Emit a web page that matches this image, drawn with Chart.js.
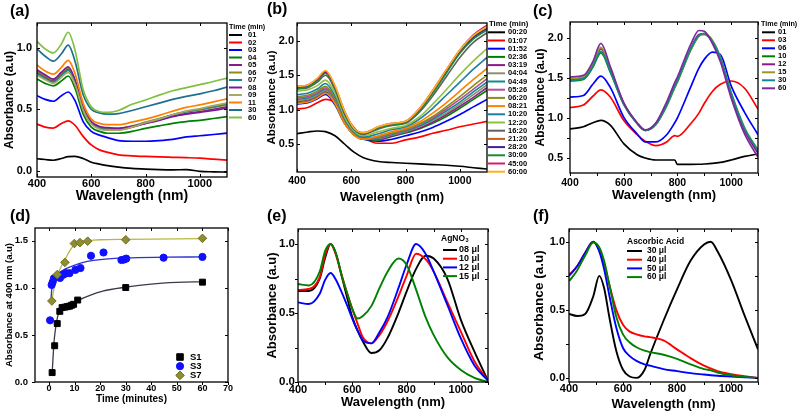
<!DOCTYPE html>
<html><head><meta charset="utf-8">
<script src="https://cdn.jsdelivr.net/npm/chart.js@4.4.1/dist/chart.umd.min.js"></script>
<style>
html,body{margin:0;padding:0;background:#fff;}
body{width:799px;height:419px;position:relative;overflow:hidden;}
canvas{position:absolute;}
</style></head><body>
<canvas id="pa" width="280" height="205" style="left:0px;top:0px;width:280px;height:205px"></canvas>
<canvas id="pb" width="270" height="205" style="left:265px;top:0px;width:270px;height:205px"></canvas>
<canvas id="pc" width="269" height="205" style="left:530px;top:0px;width:269px;height:205px"></canvas>
<canvas id="pd" width="265" height="214" style="left:0px;top:205px;width:265px;height:214px"></canvas>
<canvas id="pe" width="265" height="214" style="left:265px;top:205px;width:265px;height:214px"></canvas>
<canvas id="pf" width="269" height="214" style="left:530px;top:205px;width:269px;height:214px"></canvas>
<script>
// ---------------- DATA ----------------
// (a)
const A_WL = [400,430,460,490,515,540,570,600,630,660,700,750,800,850,900,950,1000,1050,1100];
const A_LABELS = ['01','02','03','04','05','06','07','08','09','11','30','60'];
const A_01 = [0.098,0.092,0.086,0.100,0.115,0.117,0.100,0.070,0.055,0.042,0.030,0.020,0.014,0.010,0.008,0.010,-0.004,-0.008,-0.010];
const A_02 = [0.380,0.355,0.347,0.385,0.406,0.370,0.280,0.210,0.170,0.150,0.130,0.122,0.117,0.113,0.110,0.107,0.103,0.095,0.087];
const A_03 = [0.610,0.580,0.565,0.610,0.640,0.570,0.400,0.320,0.290,0.270,0.245,0.240,0.240,0.245,0.255,0.275,0.285,0.295,0.306];
const A_04 = [0.745,0.710,0.690,0.730,0.770,0.670,0.460,0.355,0.320,0.305,0.305,0.320,0.345,0.365,0.385,0.400,0.410,0.425,0.440];
const A_05 = [0.800,0.760,0.730,0.780,0.825,0.720,0.500,0.390,0.350,0.340,0.335,0.355,0.385,0.415,0.445,0.465,0.480,0.500,0.520];
const A_06 = [0.810,0.770,0.740,0.790,0.835,0.730,0.510,0.395,0.355,0.345,0.345,0.365,0.395,0.425,0.455,0.480,0.495,0.515,0.535];
const A_07 = [0.790,0.750,0.720,0.770,0.815,0.715,0.500,0.385,0.345,0.335,0.335,0.360,0.390,0.420,0.455,0.480,0.500,0.520,0.545];
const A_08 = [0.820,0.780,0.745,0.800,0.845,0.740,0.515,0.400,0.360,0.350,0.345,0.360,0.385,0.410,0.440,0.460,0.475,0.490,0.510];
const A_09 = [0.775,0.740,0.710,0.760,0.800,0.705,0.495,0.380,0.340,0.330,0.330,0.355,0.390,0.420,0.455,0.485,0.505,0.530,0.550];
const A_11 = [0.860,0.810,0.785,0.840,0.897,0.790,0.550,0.420,0.385,0.375,0.375,0.395,0.420,0.450,0.485,0.515,0.535,0.560,0.585];
const A_30 = [0.990,0.930,0.890,0.950,1.020,0.890,0.620,0.500,0.470,0.460,0.465,0.490,0.520,0.550,0.580,0.605,0.625,0.650,0.680];
const A_60 = [1.050,0.990,0.957,1.030,1.125,0.980,0.660,0.520,0.480,0.474,0.490,0.540,0.575,0.615,0.650,0.675,0.700,0.725,0.753];
const A_X_TICKS = [400,600,800,1000];
const A_X_TICKLABELS = ['400','600','800','1000'];
const A_Y_TICKS = [0,0.5,1.0];
const A_Y_TICKLABELS = ['0.0','0.5','1.0'];

// (b)
const B_WL = [400,440,475,505,540,575,610,645,700,750,800,850,900,950,1000,1050,1100];
const B_LABELS = ['00:20','01:07','01:52','02:36','03:19','04:04','04:49','05:26','06:20','08:21','10:20','12:20','16:20','21:20','28:20','30:00','45:00','60:00'];
const B_0020 = [0.65,0.675,0.69,0.68,0.62,0.50,0.38,0.30,0.245,0.23,0.22,0.21,0.20,0.19,0.175,0.155,0.135];
const B_0107 = [1.01,1.03,1.10,1.15,1.10,0.92,0.74,0.60,0.51,0.51,0.56,0.60,0.655,0.70,0.75,0.79,0.83];
const B_0152 = [1.08,1.10,1.16,1.22,1.07,0.80,0.64,0.57,0.54,0.57,0.62,0.67,0.74,0.83,0.93,1.04,1.15];
const B_0236 = [1.10,1.12,1.18,1.25,1.09,0.81,0.63,0.57,0.56,0.61,0.66,0.72,0.80,0.90,1.02,1.15,1.28];
const B_0319 = [1.12,1.14,1.20,1.27,1.11,0.82,0.64,0.57,0.57,0.62,0.67,0.73,0.82,0.93,1.05,1.18,1.32];
const B_0404 = [1.13,1.15,1.21,1.28,1.12,0.82,0.64,0.575,0.58,0.63,0.68,0.75,0.84,0.95,1.08,1.22,1.36];
const B_0449 = [1.15,1.17,1.23,1.30,1.14,0.83,0.645,0.58,0.59,0.64,0.69,0.76,0.86,0.98,1.11,1.26,1.40];
const B_0526 = [1.17,1.19,1.25,1.32,1.15,0.84,0.65,0.58,0.60,0.65,0.70,0.78,0.88,1.01,1.15,1.30,1.45];
const B_0620 = [1.19,1.21,1.27,1.34,1.17,0.85,0.655,0.585,0.61,0.66,0.71,0.79,0.90,1.04,1.19,1.35,1.50];
const B_0821 = [1.09,1.11,1.17,1.24,1.09,0.80,0.63,0.57,0.62,0.68,0.73,0.82,0.95,1.10,1.27,1.44,1.60];
const B_1020 = [1.22,1.24,1.30,1.38,1.20,0.87,0.67,0.60,0.65,0.71,0.75,0.86,1.02,1.21,1.40,1.59,1.76];
const B_1220 = [1.27,1.29,1.35,1.43,1.24,0.90,0.69,0.62,0.68,0.73,0.77,0.89,1.08,1.29,1.51,1.71,1.89];
const B_1620 = [1.30,1.32,1.40,1.50,1.29,0.94,0.71,0.64,0.72,0.77,0.80,0.96,1.20,1.48,1.76,1.98,2.12];
const B_2120 = [1.33,1.35,1.44,1.55,1.33,0.97,0.725,0.66,0.74,0.79,0.82,1.00,1.27,1.57,1.85,2.06,2.20];
const B_2820 = [1.32,1.34,1.43,1.54,1.32,0.96,0.72,0.655,0.74,0.79,0.82,1.00,1.26,1.56,1.84,2.05,2.18];
const B_3000 = [1.31,1.33,1.42,1.53,1.31,0.96,0.715,0.65,0.73,0.78,0.81,0.98,1.24,1.53,1.82,2.03,2.16];
const B_4500 = [1.34,1.36,1.45,1.56,1.34,0.98,0.73,0.665,0.75,0.80,0.83,1.01,1.28,1.58,1.87,2.09,2.23];
const B_6000 = [1.34,1.36,1.46,1.57,1.35,0.98,0.73,0.665,0.75,0.80,0.83,1.01,1.28,1.58,1.87,2.08,2.21];
const B_X_TICKS = [400,600,800,1000];
const B_X_TICKLABELS = ['400','600','800','1000'];
const B_Y_TICKS = [0.5,1.0,1.5,2.0];
const B_Y_TICKLABELS = ['0.5','1.0','1.5','2.0'];

// (c)
const C_WL = [400,450,485,515,550,600,650,680,720,760,790,800,850,880,900,930,960,1000,1050,1100];
const C_LABELS = ['01','03','06','10','12','15','30','60'];
const C_01 = [0.86,0.89,0.94,0.97,0.91,0.68,0.54,0.50,0.475,0.475,0.475,0.42,0.42,0.422,0.425,0.432,0.445,0.475,0.52,0.55];
const C_03 = [1.13,1.16,1.27,1.35,1.26,0.97,0.79,0.71,0.655,0.70,0.78,0.77,0.93,1.06,1.18,1.33,1.42,1.46,1.37,1.11];
const C_06 = [1.26,1.28,1.42,1.52,1.38,1.01,0.80,0.70,0.70,0.79,0.94,1.00,1.39,1.62,1.73,1.82,1.79,1.40,1.07,0.79];
const C_10 = [1.46,1.48,1.63,1.81,1.57,1.17,0.93,0.845,0.92,1.15,1.38,1.45,1.85,2.02,2.04,1.95,1.74,1.30,0.86,0.58];
const C_12 = [1.48,1.50,1.66,1.86,1.60,1.18,0.93,0.845,0.93,1.17,1.40,1.47,1.87,2.04,2.05,1.95,1.73,1.28,0.84,0.56];
const C_15 = [1.49,1.51,1.67,1.88,1.61,1.18,0.935,0.85,0.92,1.15,1.38,1.45,1.85,2.02,2.05,1.97,1.76,1.32,0.88,0.60];
const C_30 = [1.47,1.49,1.64,1.83,1.58,1.17,0.93,0.845,0.92,1.16,1.39,1.46,1.86,2.03,2.05,1.96,1.75,1.31,0.87,0.59];
const C_60 = [1.51,1.53,1.70,1.93,1.64,1.19,0.94,0.85,0.94,1.20,1.44,1.51,1.92,2.09,2.08,1.93,1.70,1.25,0.80,0.51];
const C_X_TICKS = [400,500,600,700,800,900,1000,1100];
const C_X_TICKLABELS = ['400','','600','','800','','1000',''];
const C_Y_TICKS = [0.5,0.75,1.0,1.25,1.5,1.75,2.0];
const C_Y_TICKLABELS = ['0.5','','1.0','','1.5','','2.0'];

// (d)
const D_LABELS = ['S1','S3','S7'];
const D_S1_T = [1.2,2.2,3.2,4.2,5.1,6.2,7.1,8.0,8.8,9.6,11.2,30,60];
const D_S1_A = [0.10,0.385,0.62,0.75,0.79,0.795,0.80,0.805,0.815,0.825,0.87,1.003,1.06];
const D_S3_T = [0.4,1.0,1.4,1.9,4.3,5.3,5.9,6.6,8.0,10.3,12.3,16.4,21.3,28.3,29.3,30.2,44.8,60];
const D_S3_A = [0.655,1.03,1.06,1.10,1.105,1.135,1.145,1.155,1.155,1.19,1.21,1.34,1.375,1.295,1.30,1.31,1.32,1.328];
const D_S7_T = [1.1,3.2,6.2,9.9,12.1,15.1,30,60];
const D_S7_A = [0.86,1.14,1.27,1.47,1.48,1.495,1.51,1.525];
const D_FIT1_T = [1.2,1.6,2,2.5,3,3.6,4.5,5.5,7,9.5,12,16,21,30,40,50,60];
const D_FIT1_A = [0.08,0.28,0.44,0.56,0.645,0.72,0.77,0.79,0.81,0.84,0.875,0.92,0.965,1.007,1.04,1.057,1.064];
const D_FIT3_T = [0.7,1.0,1.4,2,3,4,6,8,10,12,15,20,30,45,60];
const D_FIT3_A = [0.85,0.97,1.04,1.09,1.13,1.16,1.195,1.22,1.24,1.26,1.28,1.30,1.318,1.325,1.328];
const D_FIT7_T = [1.0,1.5,2,3,4,5,6,7,8,9,10,12,15,20,30,60];
const D_FIT7_A = [0.84,0.93,1.0,1.1,1.18,1.24,1.29,1.34,1.39,1.43,1.46,1.49,1.50,1.51,1.515,1.523];
const D_X_TICKS = [0,10,20,30,40,50,60,70];
const D_X_TICKLABELS = ['0','10','20','30','40','50','60','70'];
const D_Y_TICKS = [0,0.5,1.0,1.5];
const D_Y_TICKLABELS = ['0.0','0.5','1.0','1.5'];

// (e)
const E_WL = [400,440,480,500,520,540,560,580,600,620,640,670,700,730,770,800,835,870,900,950,1000,1050,1100];
const E_LABELS = ['08 \u03bcl','10 \u03bcl','12 \u03bcl','15 \u03bcl'];
const E_08 = [0.66,0.66,0.75,0.90,1.0,0.93,0.775,0.62,0.47,0.37,0.29,0.21,0.23,0.32,0.50,0.655,0.82,0.915,0.895,0.75,0.45,0.22,0.01];
const E_10 = [0.667,0.674,0.76,0.92,1.0,0.92,0.78,0.65,0.53,0.42,0.32,0.28,0.34,0.44,0.62,0.77,0.93,0.89,0.80,0.58,0.365,0.15,0.01];
const E_12 = [0.577,0.565,0.64,0.74,0.79,0.74,0.655,0.56,0.46,0.37,0.30,0.28,0.36,0.47,0.68,0.85,1.0,0.93,0.80,0.56,0.316,0.12,0.01];
const E_15 = [0.71,0.70,0.80,0.95,1.0,0.93,0.78,0.65,0.53,0.46,0.48,0.55,0.68,0.80,0.895,0.85,0.67,0.47,0.34,0.18,0.087,0.03,0.0];
const E_X_TICKS = [400,500,600,700,800,900,1000,1100];
const E_X_TICKLABELS = ['400','','600','','800','','1000',''];
const E_Y_TICKS = [0,0.25,0.5,0.75,1.0];
const E_Y_TICKLABELS = ['0.0','','0.5','','1.0'];

// (f)
const F_WL = [400,430,460,490,512,530,550,575,600,625,650,680,700,750,800,850,900,925,950,1000,1050,1100];
const F_LABELS = ['30 \u03bcl','40 \u03bcl','50 \u03bcl','60 \u03bcl'];
const F_30 = [0.47,0.455,0.47,0.60,0.75,0.66,0.44,0.20,0.06,0.01,0.0,0.06,0.17,0.42,0.65,0.86,0.98,1.0,0.93,0.72,0.46,0.21];
const F_40 = [0.755,0.82,0.92,1.0,0.94,0.84,0.68,0.50,0.39,0.34,0.32,0.305,0.30,0.275,0.21,0.145,0.09,0.07,0.05,0.028,0.012,0.0];
const F_50 = [0.75,0.82,0.92,1.0,0.93,0.80,0.60,0.37,0.22,0.16,0.125,0.10,0.09,0.065,0.05,0.035,0.025,0.02,0.016,0.01,0.005,0.0];
const F_60 = [0.71,0.79,0.90,0.995,0.96,0.86,0.68,0.45,0.32,0.26,0.225,0.20,0.19,0.17,0.14,0.10,0.065,0.055,0.04,0.02,0.008,0.0];
const F_X_TICKS = [400,500,600,700,800,900,1000,1100];
const F_X_TICKLABELS = ['400','','600','','800','','1000',''];
const F_Y_TICKS = [0,0.25,0.5,0.75,1.0];
const F_Y_TICKLABELS = ['0.0','','0.5','','1.0'];

// ---------------- RENDERING ----------------
const FONT = "'Liberation Sans', Arial, Helvetica, sans-serif";

function lineSets(wl, series, labels, colors, width) {
  return series.map((vals, i) => ({
    label: labels[i],
    data: wl.map((w, j) => ({x: w, y: vals[j]})),
    borderColor: colors[i], backgroundColor: colors[i],
    borderWidth: width, pointRadius: 0, fill: false,
    cubicInterpolationMode: 'monotone', order: -i
  }));
}

function drawMarker(ctx, style, color, border, x, y, r) {
  ctx.save();
  ctx.fillStyle = color; ctx.strokeStyle = border; ctx.lineWidth = 1;
  ctx.beginPath();
  if (style === 'rect') { const s = r * 0.78; ctx.rect(x - s, y - s, 2 * s, 2 * s); }
  else if (style === 'circle') { ctx.arc(x, y, r, 0, Math.PI * 2); }
  else { ctx.moveTo(x, y - r); ctx.lineTo(x + r, y); ctx.lineTo(x, y + r); ctx.lineTo(x - r, y); ctx.closePath(); }
  ctx.fill(); ctx.stroke();
  ctx.restore();
}

const decor = {
  id: 'decor',
  afterDraw(chart, args, o) {
    const ctx = chart.ctx, a = chart.chartArea;
    const xs = chart.scales.x, ys = chart.scales.y;
    ctx.save();
    ctx.strokeStyle = '#000'; ctx.lineWidth = 1;
    const tl = o.tl || 3;
    const lb = o.out ? -1 : 1;
    xs.ticks.forEach(t => {
      const px = Math.round(xs.getPixelForValue(t.value)) + 0.5;
      ctx.beginPath();
      ctx.moveTo(px, a.bottom); ctx.lineTo(px, a.bottom - tl * lb);
      ctx.moveTo(px, a.top); ctx.lineTo(px, a.top + tl);
      ctx.stroke();
    });
    ys.ticks.forEach(t => {
      const py = Math.round(ys.getPixelForValue(t.value)) + 0.5;
      ctx.beginPath();
      ctx.moveTo(a.left, py); ctx.lineTo(a.left + tl * lb, py);
      ctx.moveTo(a.right, py); ctx.lineTo(a.right - tl, py);
      ctx.stroke();
    });
    ctx.lineWidth = 1.3;
    ctx.strokeRect(a.left, a.top, a.right - a.left, a.bottom - a.top);
    // panel tag
    ctx.fillStyle = '#000'; ctx.textAlign = 'left'; ctx.textBaseline = 'middle';
    ctx.font = 'bold 16px ' + FONT;
    ctx.fillText(o.tag, o.tagX, o.tagY);
    // legend
    const L = o.legend;
    if (L) {
      if (L.title) {
        ctx.font = 'bold ' + L.titleSize + 'px ' + FONT;
        ctx.fillText(L.title, L.titleX, L.titleY);
        if (L.titleSub) {
          const w = ctx.measureText(L.title).width;
          ctx.font = 'bold ' + (L.titleSize * 0.65) + 'px ' + FONT;
          ctx.fillText(L.titleSub, L.titleX + w + 0.5, L.titleY + L.titleSize * 0.3);
        }
      }
      const items = chart.data.datasets.filter(d => !d.noLegend);
      ctx.font = 'bold ' + L.size + 'px ' + FONT;
      items.forEach((d, i) => {
        const y = L.y0 + i * L.dy;
        if (d.pointStyle && d.markerLegend) {
          drawMarker(ctx, d.pointStyle, d.backgroundColor, d.pointBorderColor || d.backgroundColor, L.markX, y, d.pointRadius);
        } else {
          ctx.strokeStyle = d.borderColor; ctx.lineWidth = L.lw;
          ctx.beginPath(); ctx.moveTo(L.lineX0, y); ctx.lineTo(L.lineX1, y); ctx.stroke();
        }
        ctx.fillStyle = '#000';
        ctx.fillText(d.label, L.textX, y);
      });
    }
    ctx.restore();
  }
};

function makeChart(id, type, datasets, p) {
  const font = (s) => ({family: FONT, size: s, weight: 'bold'});
  return new Chart(document.getElementById(id), {
    type: type,
    data: {datasets: datasets},
    options: {
      responsive: false, animation: false, devicePixelRatio: 1,
      layout: {padding: {left: p.padL, top: p.padT, right: p.padR, bottom: p.padB}},
      plugins: {legend: {display: false}, tooltip: {enabled: false}, decor: p.decor},
      scales: {
        x: {
          type: 'linear', position: 'bottom', min: p.xMin, max: p.xMax,
          afterFit: s => { s.height = p.xH; },
          afterBuildTicks: s => { s.ticks = p.xTicks.map(v => ({value: v})); },
          ticks: {autoSkip: false, maxRotation: 0, padding: p.xPad, color: '#000', font: font(p.xTickSize),
                  callback: (v, i) => p.xLabels[i]},
          grid: {display: true, drawOnChartArea: false, drawTicks: false},
          border: {display: false},
          title: {display: true, text: p.xTitle, color: '#000', font: font(p.xTitleSize), padding: 0}
        },
        y: {
          type: 'linear', position: 'left', min: p.yMin, max: p.yMax,
          afterFit: s => { s.width = p.yW; },
          afterBuildTicks: s => { s.ticks = p.yTicks.map(v => ({value: v})); },
          ticks: {autoSkip: false, padding: p.yPad, color: '#000', font: font(p.yTickSize),
                  callback: (v, i) => p.yLabels[i]},
          grid: {display: true, drawOnChartArea: false, drawTicks: false},
          border: {display: false},
          title: {display: true, text: p.yTitle, color: '#000', font: font(p.yTitleSize), padding: 0}
        }
      }
    },
    plugins: [decor]
  });
}

// (a)
makeChart('pa', 'line',
  lineSets(A_WL, [A_01,A_02,A_03,A_04,A_05,A_06,A_07,A_08,A_09,A_11,A_30,A_60], A_LABELS,
    ['#000000','#ff0000','#0000ff','#008000','#8b1a8b','#8b8b1a','#108a8a','#7a1a9a','#a8a860','#ff8000','#1f6f8f','#80c040'], 1.7),
  {padL: 2.5, padT: 23, padR: 53, padB: 0, yW: 34.5, xH: 28,
   xMin: 400, xMax: 1100, yMin: -0.05, yMax: 1.2,
   xTicks: A_X_TICKS, xLabels: A_X_TICKLABELS, yTicks: A_Y_TICKS, yLabels: A_Y_TICKLABELS,
   xPad: 0, yPad: 5, xTickSize: 11, yTickSize: 11, xTitle: 'Wavelength (nm)', xTitleSize: 14,
   yTitle: 'Absorbance (a.u)', yTitleSize: 12,
   decor: {tag: '(a)', tagX: 10, tagY: 12, tl: 3,
     legend: {title: 'Time (min)', titleSize: 7.2, titleX: 229, titleY: 26.7, size: 7.5,
       lineX0: 229, lineX1: 242, textX: 248, y0: 35, dy: 7.5, lw: 2}}});

// (b)
makeChart('pb', 'line',
  lineSets(B_WL, [B_0020,B_0107,B_0152,B_0236,B_0319,B_0404,B_0449,B_0526,B_0620,B_0821,B_1020,B_1220,B_1620,B_2120,B_2820,B_3000,B_4500,B_6000], B_LABELS,
    ['#000000','#ff0000','#0000ff','#008000','#8b1a8b','#8f8f6f','#108a8a','#b0509a','#8b8b1a','#ff8000','#1f7f9f','#90c040','#606060','#c06020','#40208f','#1a8a3a','#d0206a','#ffb020'], 1.6),
  {padL: 0, padT: 23, padR: 48, padB: 0, yW: 32, xH: 33,
   xMin: 400, xMax: 1100, yMin: 0.092, yMax: 2.262,
   xTicks: B_X_TICKS, xLabels: B_X_TICKLABELS, yTicks: B_Y_TICKS, yLabels: B_Y_TICKLABELS,
   xPad: 3, yPad: 3, xTickSize: 10.5, yTickSize: 11, xTitle: 'Wavelength (nm)', xTitleSize: 13,
   yTitle: 'Absorbance (a.u)', yTitleSize: 11.5,
   decor: {tag: '(b)', tagX: 2, tagY: 10, tl: 3,
     legend: {title: 'Time (min)', titleSize: 7.8, titleX: 224, titleY: 24.3, size: 7.5,
       lineX0: 223, lineX1: 240, textX: 243, y0: 32.3, dy: 8.2, lw: 2}}});

// (c)
makeChart('pc', 'line',
  lineSets(C_WL, [C_01,C_03,C_06,C_10,C_12,C_15,C_30,C_60], C_LABELS,
    ['#000000','#ff0000','#0000ff','#008000','#8b1a8b','#9a9a20','#108a8a','#7a2a9a'], 1.7),
  {padL: 3.5, padT: 22, padR: 41, padB: 2.2, yW: 36.5, xH: 29.8,
   xMin: 400, xMax: 1100, yMin: 0.313, yMax: 2.196,
   xTicks: C_X_TICKS, xLabels: C_X_TICKLABELS, yTicks: C_Y_TICKS, yLabels: C_Y_TICKLABELS,
   xPad: 3.4, yPad: 7, xTickSize: 10.5, yTickSize: 11, xTitle: 'Wavelength (nm)', xTitleSize: 13,
   yTitle: 'Absorbance (a.u)', yTitleSize: 12,
   decor: {tag: '(c)', tagX: 3, tagY: 11.5, tl: 3, out: true,
     legend: {title: 'Time (min)', titleSize: 7.2, titleX: 231, titleY: 24, size: 7.5,
       lineX0: 232, lineX1: 245, textX: 248, y0: 32.3, dy: 8.0, lw: 2}}});

// (d)
const dPts = (t, a) => t.map((x, i) => ({x: x, y: a[i]}));
makeChart('pd', 'scatter', [
  {label: D_LABELS[0], data: dPts(D_S1_T, D_S1_A), pointStyle: 'rect', pointRadius: 4.2, backgroundColor: '#000000', pointBorderColor: '#000000', borderColor: '#000000', markerLegend: true, order: -10},
  {label: D_LABELS[1], data: dPts(D_S3_T, D_S3_A), pointStyle: 'circle', pointRadius: 3.6, backgroundColor: '#1010ff', pointBorderColor: '#1010ff', borderColor: '#1010ff', markerLegend: true, order: -11},
  {label: D_LABELS[2], data: dPts(D_S7_T, D_S7_A), pointStyle: 'rectRot', pointRadius: 4.3, backgroundColor: '#8e8e30', pointBorderColor: '#6e6e20', borderColor: '#6e6e20', markerLegend: true, order: -12},
  {label: 'fit S1', noLegend: true, data: dPts(D_FIT1_T, D_FIT1_A), showLine: true, pointRadius: 0, borderColor: '#3a3a4a', borderWidth: 1.3, cubicInterpolationMode: 'monotone', order: 1},
  {label: 'fit S3', noLegend: true, data: dPts(D_FIT3_T, D_FIT3_A), showLine: true, pointRadius: 0, borderColor: '#3030d0', borderWidth: 1.3, cubicInterpolationMode: 'monotone', order: 2},
  {label: 'fit S7', noLegend: true, data: dPts(D_FIT7_T, D_FIT7_A), showLine: true, pointRadius: 0, borderColor: '#b8b840', borderWidth: 1.3, cubicInterpolationMode: 'monotone', order: 3}
], {padL: 4, padT: 23, padR: 37, padB: 13.7, yW: 31, xH: 23.3,
   xMin: -5.5, xMax: 70, yMin: 0, yMax: 1.635,
   xTicks: D_X_TICKS, xLabels: D_X_TICKLABELS, yTicks: D_Y_TICKS, yLabels: D_Y_TICKLABELS,
   xPad: 1, yPad: 7, xTickSize: 9, yTickSize: 9.5, xTitle: 'Time (minutes)', xTitleSize: 10,
   yTitle: 'Absorbance at 400 nm (a.u)', yTitleSize: 9.5,
   decor: {tag: '(d)', tagX: 10, tagY: 11.7, tl: 3, out: true,
     legend: {size: 9.5, markX: 180, textX: 190, y0: 152, dy: 9.2, lw: 2}}});

// (e)
makeChart('pe', 'line',
  lineSets(E_WL, [E_08,E_10,E_12,E_15], E_LABELS, ['#000000','#ff0000','#0000ff','#008000'], 1.9),
  {padL: 0, padT: 24, padR: 42, padB: 9.2, yW: 33, xH: 27.8,
   xMin: 400, xMax: 1100, yMin: 0, yMax: 1.109,
   xTicks: E_X_TICKS, xLabels: E_X_TICKLABELS, yTicks: E_Y_TICKS, yLabels: E_Y_TICKLABELS,
   xPad: 1.4, yPad: 3, xTickSize: 11, yTickSize: 11.5, xTitle: 'Wavelength (nm)', xTitleSize: 13,
   yTitle: 'Absorbance (a.u)', yTitleSize: 13,
   decor: {tag: '(e)', tagX: 2, tagY: 11.7, tl: 3, out: true,
     legend: {title: 'AgNO', titleSub: '3', titleSize: 8.5, titleX: 176, titleY: 33.3, size: 9,
       lineX0: 178, lineX1: 192, textX: 194, y0: 45, dy: 8.7, lw: 2}}});

// (f)
makeChart('pf', 'line',
  lineSets(F_WL, [F_30,F_40,F_50,F_60], F_LABELS, ['#000000','#ff0000','#0000ff','#008000'], 1.9),
  {padL: 1.5, padT: 24, padR: 41, padB: 7.2, yW: 37.5, xH: 29.8,
   xMin: 400, xMax: 1100, yMin: -0.03, yMax: 1.094,
   xTicks: F_X_TICKS, xLabels: F_X_TICKLABELS, yTicks: F_Y_TICKS, yLabels: F_Y_TICKLABELS,
   xPad: 0, yPad: 4, xTickSize: 11, yTickSize: 11, xTitle: 'Wavelength (nm)', xTitleSize: 13,
   yTitle: 'Absorbance (a.u)', yTitleSize: 13.5,
   decor: {tag: '(f)', tagX: 3, tagY: 12, tl: 3, out: true,
     legend: {title: 'Ascorbic Acid', titleSize: 8.5, titleX: 97, titleY: 37, size: 8.5,
       lineX0: 97, lineX1: 112, textX: 117, y0: 46, dy: 8.7, lw: 2}}});
</script>
</body></html>
